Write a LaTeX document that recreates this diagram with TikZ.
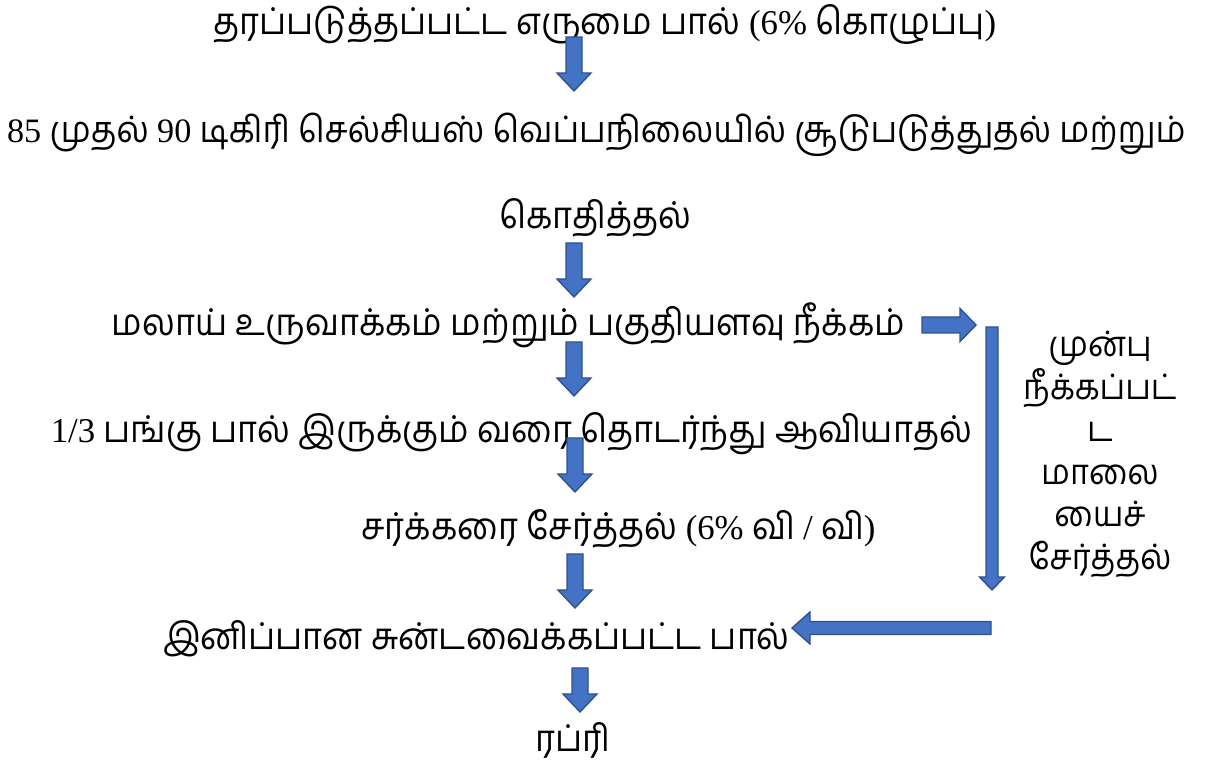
\documentclass[tikz,border=0pt]{standalone}
\usepackage{fontspec}
\setmainfont[Script=Tamil, FakeStretch=0.925]{Hind Madurai}
\newfontfamily\serifnum[Scale=0.94]{Liberation Serif}
\newcommand\lat[1]{{\serifnum #1}}
\usetikzlibrary{calc}

\definecolor{arrowfill}{HTML}{4472C4}
\definecolor{arrowline}{HTML}{2F528F}

\tikzset{
  shaft half/.store in=\shafthalf,
  head half/.store in=\headhalf,
  head len/.store in=\headlen,
  shaft half=4pt, head half=8.5pt, head len=9pt,
  blockarrow/.style={fill=arrowfill, draw=arrowline, line width=0.7pt, line join=miter,
    to path={
      ($(\tikztostart)!\shafthalf!90:(\tikztotarget)$)
      -- ($($(\tikztotarget)!\headlen!(\tikztostart)$)!\shafthalf!-90:(\tikztostart)$)
      -- ($($(\tikztotarget)!\headlen!(\tikztostart)$)!\headhalf!-90:(\tikztostart)$)
      -- (\tikztotarget)
      -- ($($(\tikztotarget)!\headlen!(\tikztostart)$)!\headhalf!90:(\tikztostart)$)
      -- ($($(\tikztotarget)!\headlen!(\tikztostart)$)!\shafthalf!90:(\tikztostart)$)
      -- ($(\tikztostart)!\shafthalf!-90:(\tikztotarget)$)
      -- cycle}},
  stage/.style={inner sep=0pt, anchor=base, font=\fontsize{18.5}{22}\selectfont},
}

\begin{document}
\begin{tikzpicture}[x=0.5pt, y=0.5pt]
    \useasboundingbox (0,0) rectangle (1211,764);

    % steps
    \node[stage] (milk) at (605,729) {தரப்படுத்தப்பட்ட எருமை பால் \lat{(6\%} கொழுப்பு\lat{)}};
    \node[stage, font=\fontsize{18.2}{22}\selectfont] (heat) at (596.5,621) {\lat{85} முதல் \lat{90} டிகிரி செல்சியஸ் வெப்பநிலையில் சூடுபடுத்துதல் மற்றும்};
    \node[stage] (boil) at (595.5,535) {கொதித்தல்};
    \node[stage] (malai) at (508.5,428) {மலாய் உருவாக்கம் மற்றும் பகுதியளவு நீக்கம்};
    \node[stage] (evap) at (511.5,321) {\lat{1/3} பங்கு பால் இருக்கும் வரை தொடர்ந்து ஆவியாதல்};
    \node[stage] (sugar) at (618.5,224) {சர்க்கரை சேர்த்தல் \lat{(6\%} வி \lat{/} வி\lat{)}};
    \node[stage] (sweet) at (476.5,114) {இனிப்பான சுன்டவைக்கப்பட்ட பால்};
    \node[stage] (rabri) at (572.5,12) {ரப்ரி};

    % side note
    \node[stage, anchor=north, align=center, font=\fontsize{17.5}{21.25}\selectfont] (back) at (1100,433)
        {முன்பு\\நீக்கப்பட்\\ட\\மாலை\\யைச்\\சேர்த்தல்};

    % arrow ends
    \coordinate (a1s) at (574,727); \coordinate (a1e) at (574,673);
    \coordinate (a2s) at (574,521); \coordinate (a2e) at (574,467);
    \coordinate (a3s) at (574,422); \coordinate (a3e) at (574,368);
    \coordinate (a4s) at (575,326); \coordinate (a4e) at (575,272);
    \coordinate (a5s) at (575,210); \coordinate (a5e) at (575,156);
    \coordinate (a6s) at (580,96);  \coordinate (a6e) at (580,52);
    \coordinate (out) at (922,439); \coordinate (side) at (976,439);
    \coordinate (top) at (992,437); \coordinate (bot) at (992,174);
    \coordinate (ret) at (991,136); \coordinate (in) at (792,136);

    % arrows
    \draw[blockarrow] (a1s) to (a1e);
    \draw[blockarrow] (a2s) to (a2e);
    \draw[blockarrow] (a3s) to (a3e);
    \draw[blockarrow] (a4s) to (a4e);
    \draw[blockarrow] (a5s) to (a5e);
    \draw[blockarrow] (a6s) to (a6e);
    \draw[blockarrow, head half=8.25pt, head len=8pt] (out) to (side);
    \draw[blockarrow, shaft half=3pt, head half=6.25pt, head len=6.5pt] (top) to (bot);
    \draw[blockarrow, shaft half=3.25pt, head half=8pt, head len=9pt] (ret) to (in);

\end{tikzpicture}
\end{document}
